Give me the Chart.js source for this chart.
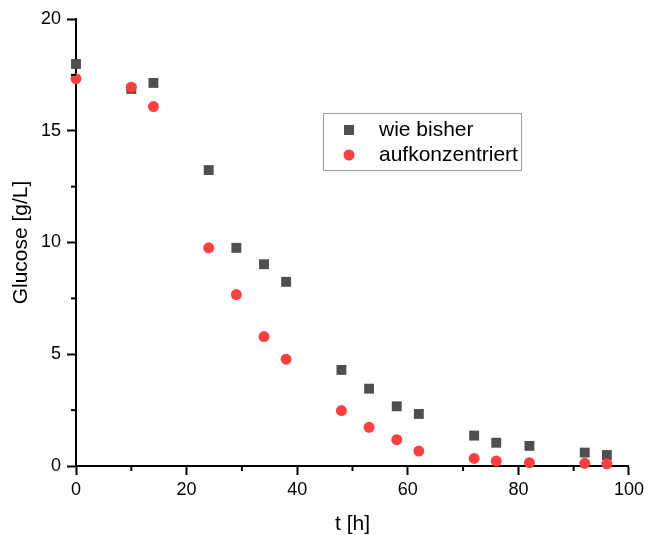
<!doctype html>
<html>

<head>
  <title>Glucose</title>
  <script src="https://cdn.jsdelivr.net/npm/chart.js@4/dist/chart.umd.min.js"></script>
  <style>
    body {
      margin: 0;
      background: #fff;
    }
  </style>
</head>

<body>
<canvas id="canvas" width="648" height="535"></canvas>
<script>
  // sampling times [h] and glucose [g/L] for both runs
  var hours = [0, 10, 14, 24, 29, 34, 38, 48, 53, 58, 62, 72, 76, 82, 92, 96];
  var wieBisher = [17.99, 16.87, 17.14, 13.24, 9.76, 9.03, 8.24, 4.30, 3.46, 2.67, 2.33, 1.36, 1.04, 0.90, 0.60, 0.49];
  var aufkonzentriert = [17.33, 16.95, 16.08, 9.76, 7.67, 5.79, 4.78, 2.48, 1.73, 1.18, 0.67, 0.34, 0.22, 0.15, 0.12, 0.10];

  var xTicks = [0, 20, 40, 60, 80, 100];
  var yTicks = [0, 5, 10, 15, 20];

  var FONT = '"Liberation Sans", Arial, sans-serif';
  var GRAY = '#4f4f4f';
  var RED = '#f94141';

  function points(ys) {
    return hours.map(function (h, i) {
      return { x: h, y: ys[i] };
    });
  }

  function isMajor(scale, value) {
    var list = scale.axis === 'x' ? xTicks : yTicks;
    return list.indexOf(value) !== -1;
  }

  // short minor ticks between the labelled ones
  var minorTicks = {
    id: 'minorTicks',
    afterDraw: function (chart) {
      var ctx = chart.ctx;
      ctx.save();
      ctx.strokeStyle = '#000';
      ctx.lineWidth = 2;
      ['x', 'y'].forEach(function (id) {
        var scale = chart.scales[id];
        scale.ticks.forEach(function (t) {
          if (isMajor(scale, t.value)) return;
          var p = scale.getPixelForValue(t.value);
          ctx.beginPath();
          if (id === 'x') {
            ctx.moveTo(p, scale.top);
            ctx.lineTo(p, scale.top + 5);
          } else {
            ctx.moveTo(scale.right, p);
            ctx.lineTo(scale.right - 5, p);
          }
          ctx.stroke();
        });
      });
      ctx.restore();
    }
  };

  // framed legend sitting inside the plot
  var boxLegend = {
    id: 'boxLegend',
    afterDraw: function (chart) {
      var ctx = chart.ctx;
      var area = chart.chartArea;
      var left = area.left + 247;
      var top = area.top + 94;
      ctx.save();
      ctx.strokeStyle = '#9c9c9c';
      ctx.lineWidth = 1;
      ctx.strokeRect(left + 0.5, top + 0.5, 198, 57);
      ctx.font = '21px ' + FONT;
      ctx.textBaseline = 'middle';
      chart.data.datasets.forEach(function (ds, i) {
        var cy = top + 17 + i * 25;
        var cx = left + 26;
        ctx.fillStyle = ds.backgroundColor;
        if (ds.pointStyle === 'rect') {
          ctx.fillRect(cx - 5, cy - 5, 10, 10);
        } else {
          ctx.beginPath();
          ctx.arc(cx, cy, 5.5, 0, Math.PI * 2);
          ctx.fill();
        }
        ctx.fillStyle = '#000';
        ctx.fillText(ds.label, left + 56, cy);
      });
      ctx.restore();
    }
  };

  window.onload = function () {
    var ctx = document.getElementById('canvas').getContext('2d');
    window.myChart = new Chart(ctx, {
      type: 'scatter',
      data: {
        datasets: [{
          label: 'wie bisher',
          data: points(wieBisher),
          pointStyle: 'rect',
          pointRadius: 7,
          pointHoverRadius: 7,
          pointBorderWidth: 0,
          backgroundColor: GRAY,
          borderColor: GRAY,
          clip: false,
          order: 1
        }, {
          label: 'aufkonzentriert',
          data: points(aufkonzentriert),
          pointStyle: 'circle',
          pointRadius: 5.5,
          pointHoverRadius: 5.5,
          pointBorderWidth: 0,
          backgroundColor: RED,
          borderColor: RED,
          clip: false,
          order: 0
        }]
      },
      options: {
        responsive: false,
        animation: false,
        devicePixelRatio: 1,
        layout: {
          padding: { top: 19, right: 17, left: 0, bottom: 0 }
        },
        plugins: {
          legend: { display: false },
          tooltip: { enabled: false }
        },
        scales: {
          x: {
            type: 'linear',
            min: 0,
            max: 100,
            afterFit: function (s) { s.height = 69; },
            border: { display: true, color: '#000', width: 2 },
            grid: {
              drawOnChartArea: false,
              tickLength: 9,
              tickWidth: 2,
              tickColor: function (c) {
                return c.tick && isMajor(c.scale, c.tick.value) ? '#000' : 'rgba(0,0,0,0)';
              }
            },
            ticks: {
              stepSize: 10,
              autoSkip: false,
              maxRotation: 0,
              padding: 4,
              color: '#000',
              font: { family: FONT, size: 18 },
              callback: function (v) { return xTicks.indexOf(v) !== -1 ? v : ''; }
            },
            title: {
              display: true,
              text: 't [h]',
              color: '#000',
              padding: { top: 0, bottom: 0 },
              font: { family: FONT, size: 21, lineHeight: 1 }
            }
          },
          y: {
            min: 0,
            max: 20,
            afterFit: function (s) { s.width = 76; },
            border: { display: true, color: '#000', width: 2 },
            grid: {
              drawOnChartArea: false,
              tickLength: 9,
              tickWidth: 2,
              tickColor: function (c) {
                return c.tick && isMajor(c.scale, c.tick.value) ? '#000' : 'rgba(0,0,0,0)';
              }
            },
            ticks: {
              stepSize: 2.5,
              autoSkip: false,
              padding: 6,
              color: '#000',
              font: { family: FONT, size: 18 },
              callback: function (v) { return yTicks.indexOf(v) !== -1 ? v : ''; }
            },
            title: {
              display: true,
              text: 'Glucose [g/L]',
              color: '#000',
              padding: { top: 11, bottom: 0 },
              font: { family: FONT, size: 21, lineHeight: 1 }
            }
          }
        }
      },
      plugins: [minorTicks, boxLegend]
    });
  };
</script>
</body>

</html>
